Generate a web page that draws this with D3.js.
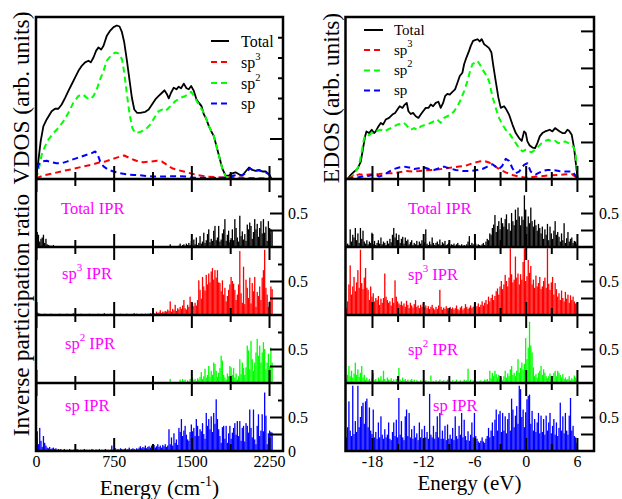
<!DOCTYPE html>
<html>
<head>
<meta charset="utf-8">
<script src="https://cdn.jsdelivr.net/npm/d3@7"></script>
<style>
  body { margin: 0; background: #fff; }
  svg { display: block; }
</style>
</head>
<body>
<svg id="fig" width="622" height="499"></svg>
<script>
// ---------- Vibrational density of states, [frequency (cm^-1), VDOS (arb.)] ----------
const vibTotal = [[0,0.03],[22,0.86],[45,1.86],[71,2.60],[103,2.94],[151,3.35],[184,3.47],[216,3.47],[248,3.68],[281,4.01],[313,4.35],[345,4.68],[377,5.01],[410,5.34],[442,5.59],[474,5.76],[507,5.84],[529,5.76],[555,6.00],[581,6.34],[604,6.50],[629,6.39],[652,6.58],[684,7.08],[717,7.33],[749,7.50],[781,7.58],[807,7.53],[830,7.25],[852,6.75],[878,5.84],[904,4.84],[926,4.01],[949,3.43],[975,3.27],[1007,3.27],[1056,3.32],[1088,3.43],[1120,3.68],[1152,3.93],[1185,4.10],[1217,4.26],[1240,4.38],[1265,4.18],[1282,3.98],[1304,4.26],[1330,4.51],[1356,4.43],[1378,4.56],[1401,4.48],[1427,4.71],[1453,4.48],[1475,4.43],[1498,4.59],[1524,4.35],[1550,3.93],[1572,3.77],[1598,3.60],[1621,3.19],[1646,2.94],[1669,2.61],[1692,2.36],[1718,2.11],[1743,1.61],[1769,1.11],[1798,0.53],[1831,0.17],[1863,0.17],[1895,0.28],[1927,0.33],[1960,0.23],[1992,0.17],[2024,0.37],[2057,0.57],[2089,0.45],[2121,0.40],[2153,0.45],[2186,0.37],[2218,0.37],[2250,0.23],[2273,0.03]];
const vibSp3 = [[0,0.03],[71,0.17],[168,0.28],[264,0.40],[361,0.50],[458,0.62],[555,0.73],[620,0.83],[668,0.86],[717,0.95],[765,1.03],[813,1.11],[852,1.16],[894,1.06],[943,0.95],[991,0.86],[1039,0.83],[1104,0.86],[1169,0.90],[1217,0.86],[1265,0.70],[1314,0.53],[1362,0.45],[1427,0.37],[1491,0.28],[1556,0.20],[1653,0.12],[1782,0.08],[1911,0.07],[2073,0.05],[2273,0.03]];
const vibSp2 = [[0,0.03],[22,0.37],[55,1.20],[87,1.61],[119,1.94],[168,2.27],[216,2.52],[264,2.85],[313,3.27],[361,3.77],[410,4.10],[452,4.18],[490,4.01],[523,3.93],[555,4.10],[587,4.43],[620,4.93],[652,5.34],[684,5.84],[723,6.09],[765,6.25],[797,6.20],[830,5.92],[852,5.26],[878,4.18],[904,3.18],[930,2.52],[959,2.27],[1007,2.32],[1056,2.44],[1104,2.69],[1152,3.10],[1185,3.35],[1217,3.43],[1249,3.35],[1282,3.52],[1314,3.68],[1346,3.85],[1395,4.01],[1443,4.10],[1475,4.21],[1498,4.31],[1524,4.10],[1556,3.82],[1588,3.55],[1621,3.27],[1646,2.94],[1669,2.61],[1692,2.36],[1718,2.11],[1743,1.61],[1769,1.11],[1798,0.53],[1831,0.12],[1879,0.03],[1927,0.00]];
const vibSp = [[0,0.03],[22,0.70],[55,0.86],[103,0.90],[151,0.83],[200,0.78],[248,0.78],[297,0.86],[345,0.95],[394,1.03],[442,1.11],[490,1.20],[539,1.28],[571,1.36],[594,1.23],[620,0.86],[652,0.62],[700,0.45],[749,0.37],[813,0.28],[878,0.23],[943,0.20],[1007,0.18],[1072,0.15],[1136,0.12],[1265,0.13],[1395,0.13],[1459,0.12],[1491,0.07],[1750,0.05],[1831,0.07],[1879,0.12],[1911,0.17],[1944,0.20],[1976,0.17],[2008,0.23],[2040,0.37],[2066,0.53],[2089,0.45],[2121,0.40],[2153,0.43],[2186,0.37],[2218,0.33],[2250,0.23],[2273,0.03]];

// ---------- Electronic density of states, [energy (eV), EDOS (arb.)] ----------
const elTotal = [[-20.87,0.00],[-20.48,0.22],[-20.09,0.40],[-19.70,0.54],[-19.31,0.94],[-19.04,1.67],[-18.81,2.30],[-18.65,2.57],[-18.34,2.48],[-18.03,2.66],[-17.75,2.48],[-17.56,2.57],[-17.25,2.84],[-16.97,3.03],[-16.70,2.94],[-16.39,3.21],[-16.00,3.30],[-15.61,3.48],[-15.29,3.57],[-15.02,3.75],[-14.75,3.93],[-14.43,3.84],[-14.16,4.02],[-13.93,4.11],[-13.73,3.66],[-13.46,3.51],[-13.19,3.57],[-12.87,3.39],[-12.56,3.30],[-12.29,3.48],[-12.01,3.66],[-11.70,3.84],[-11.39,3.84],[-11.12,4.02],[-10.84,3.93],[-10.53,4.11],[-10.22,4.17],[-9.95,3.84],[-9.67,4.11],[-9.44,4.47],[-9.17,4.60],[-8.89,4.56],[-8.58,4.71],[-8.27,4.84],[-7.99,5.20],[-7.72,5.56],[-7.41,5.74],[-7.21,6.20],[-6.94,6.56],[-6.63,6.92],[-6.43,7.19],[-6.16,7.46],[-5.93,7.50],[-5.65,7.55],[-5.38,7.43],[-5.15,7.55],[-4.87,7.28],[-4.60,7.19],[-4.29,7.07],[-4.01,6.83],[-3.82,6.20],[-3.51,5.29],[-3.19,4.38],[-2.92,3.84],[-2.53,3.93],[-2.26,3.75],[-1.95,3.48],[-1.55,2.94],[-1.16,2.48],[-0.77,2.21],[-0.46,2.06],[-0.19,2.57],[0.01,2.48],[0.20,2.03],[0.47,1.81],[0.79,1.70],[1.10,1.67],[1.37,1.94],[1.65,2.30],[1.96,2.48],[2.27,2.57],[2.54,2.61],[2.82,2.66],[3.13,2.57],[3.44,2.75],[3.71,2.66],[3.99,2.57],[4.30,2.48],[4.61,2.48],[4.89,2.66],[5.08,2.61],[5.39,2.39],[5.67,1.67],[5.94,0.58],[6.10,0.00]];
const elSp3 = [[-20.87,0.00],[-20.29,0.13],[-19.51,0.25],[-18.73,0.22],[-17.95,0.25],[-17.17,0.27],[-16.39,0.31],[-15.61,0.31],[-14.83,0.36],[-14.04,0.43],[-13.26,0.40],[-12.48,0.43],[-11.70,0.47],[-10.92,0.49],[-10.14,0.52],[-9.36,0.58],[-8.58,0.62],[-7.80,0.67],[-7.02,0.72],[-6.24,0.85],[-5.46,0.94],[-4.87,0.98],[-4.29,0.89],[-3.70,0.72],[-3.12,0.54],[-2.34,0.36],[-1.55,0.22],[-0.77,0.13],[0.01,0.07],[0.79,0.11],[1.57,0.14],[2.35,0.18],[3.13,0.20],[3.91,0.22],[4.69,0.25],[5.47,0.25],[6.06,0.04]];
const elSp2 = [[-20.68,0.04],[-20.09,0.22],[-19.51,0.76],[-19.20,1.48],[-18.92,2.21],[-18.65,2.39],[-18.34,2.36],[-18.03,2.48],[-17.75,2.54],[-17.36,2.61],[-16.97,2.66],[-16.58,2.57],[-16.19,2.66],[-15.80,2.75],[-15.41,2.84],[-15.02,2.94],[-14.63,2.97],[-14.24,3.03],[-13.85,2.84],[-13.46,2.66],[-13.07,2.75],[-12.68,2.66],[-12.29,2.84],[-11.90,2.90],[-11.51,2.94],[-11.12,3.03],[-10.73,3.12],[-10.34,3.21],[-9.95,3.03],[-9.56,3.30],[-9.17,3.39],[-8.77,3.48],[-8.38,3.66],[-7.99,3.93],[-7.60,4.29],[-7.21,4.75],[-6.82,5.29],[-6.51,5.83],[-6.24,6.20],[-5.93,6.29],[-5.65,6.38],[-5.38,6.20],[-5.07,5.92],[-4.68,5.65],[-4.29,5.29],[-3.90,4.47],[-3.51,3.84],[-3.12,3.30],[-2.73,2.94],[-2.34,2.66],[-1.95,2.48],[-1.55,2.21],[-1.16,1.94],[-0.77,1.67],[-0.38,1.49],[0.01,1.58],[0.32,1.49],[0.71,1.45],[1.10,1.58],[1.49,1.76],[1.88,1.94],[2.27,2.06],[2.66,2.12],[3.05,2.03],[3.44,2.06],[3.83,1.94],[4.22,1.94],[4.61,2.03],[5.00,1.94],[5.39,1.84],[5.67,1.67],[5.86,1.30],[6.06,0.04]];
const elSp = [[-20.87,0.00],[-19.90,0.07],[-19.12,0.13],[-18.34,0.18],[-17.56,0.25],[-17.17,0.13],[-16.58,0.22],[-16.00,0.40],[-15.41,0.54],[-14.83,0.62],[-14.24,0.67],[-13.65,0.62],[-13.07,0.54],[-12.48,0.58],[-11.90,0.62],[-11.31,0.54],[-10.73,0.49],[-10.14,0.58],[-9.56,0.67],[-8.97,0.58],[-8.19,0.49],[-7.41,0.43],[-6.63,0.43],[-5.85,0.47],[-5.07,0.54],[-4.48,0.67],[-3.90,0.80],[-3.51,0.67],[-3.12,0.54],[-2.73,0.72],[-2.34,1.09],[-1.95,0.98],[-1.55,0.58],[-1.16,0.31],[-0.77,0.40],[-0.19,0.76],[0.20,0.85],[0.59,0.40],[1.18,0.25],[1.96,0.43],[2.54,0.49],[3.13,0.49],[3.91,0.43],[4.69,0.40],[5.47,0.40],[6.06,0.04]];

// ---------- Inverse participation ratios (IPR x 100) ----------
// vibrational modes: one value every 12 cm^-1 starting at 0 cm^-1
const vibStart = 0, vibStep = 12;
const iprVibTotal = [24,22,18,8,12,14,18,6,12,4,3,2,2,1,3,
  1,0,0,1,0,0,0,1,0,0, 0,0,1,0,0,0,0,0,1,0, 0,0,0,0,1,0,0,0,0,0, 0,1,0,0,0,0,0,0,0,1, 0,0,0,0,0,0,1,0,0,0,
  0,0,0,1,0,0,0,0,0,0, 0,0,0,0,1,0,0,0,0,0, 0,1,0,0,0,0,0,1,0,0, 0,0,0,0,1,0,0,0,1,0, 0,1,0,
  4,0,1,0,0,1,0, 2,5,1,3,4,2,5,3,6,
  3,9,2,11,4,14,3,6,16,5, 8,21,6,10,19,26,7,12,9,24, 31,10,14,31,8,11,20,26,41,9, 18,24,7,13,26,10,41,28,14,8,
  46,16,23,11,19,9,33,26,36,31, 12,22,41,26,34,15,28,38,20,41, 21,30,9,38,28,26,24];
const iprVibSp3 = [6,4,3,2,1,
  1,1,2,1,1,1,1,2,1,1, 1,1,1,1,2,1,1,1,1,1, 2,1,1,1,1,3,1,1,1,1, 1,2,1,1,1,1,1,1,2,1, 1,1,1,1,1,2,1,1,1,1,
  3,1,1,1,1,2,1,1,1,2, 1,1,1,2,1,1,1,1,2,1, 1,1,1,1,3,1,2,1,1,1, 2,1,1,2,1,2,1,
  3,2,4,3,2,5,3,4,7,3, 5,4,6,5,8,6,20,5,9,7, 15,6,10,8,12,9,14,22,10,8, 15,12,27,
  11,17,13,18,14,22,51,37,24,56, 42,36,59,45,61,48,64,69,52,66, 55,66,48,47,35,51,30,40,20,28,
  37,45,56,50,46,37,22,30,45,94, 32,18,71,16,52,40,25,55,17,47, 35,56,12,34,28,42,22,55,66,96, 40,30,12,20,42,38];
const iprVibSp2 = [0,0,0,0,0,0,0,0,0,0, 0,0,0,0,0,0,0,0,0,0, 0,0,0,0,0,0,0,0,0,0, 0,0,0,0,0,0,0,0,0,0,
  0,0,0,0,0,0,0,0,0,0, 0,0,0,0,0,0,0,0,0,0, 0,0,0,0,0,0,0,0,0,0, 0,0,0,0,0,0,0,0,0,0,
  0,0,0,0,0,0,0,0,0,0, 0,0,0,0,0,0,0,0,0,0, 0,0,0,0,0,0,0,0,
  6,0,1,0,0,1,0,0,5,2, 6,3,5,1,4,2,6,3,8,4, 6,3,7,5,9,
  16,6,10,21,8,12,25,9,18,12, 30,28,18,9,15,22,40,33,12,8, 5,14,10,25,23,12,22,8,14,5,
  10,35,13,30,22,12,23,55,48,20, 62,35,18,30,45,65,40,55,30,45, 60,50,20,30,43,25,52,30];
const iprVibSp = [20,29,10,34,15,6,22,12,8,5, 4,6,3,4,5,3,4,2,3,2, 3,
  1,2,3,1,2,1,3,2,1,2, 2,1,3,2,1,2,1,2,3,1, 2,1,2,1,3,2,1,2,2,1, 3,1,2,1,2,3,1,2,1,2,
  8,
  2,3,4,2,3,2,4,3,2,3, 4,2,3,5,2,3,4,3,2,4, 3,5,
  7,4,6,5,8,4,6,7,5,8, 6,9,5,7,10,6,8,5,9,7, 10,6,8,
  32,10,20,8,26,12,17,9,34,28, 47,22,30,37,24,17,15,28,39,29, 34,22,47,37,22,32,29,41,25,18,
  56,37,47,32,51,28,56,40,76,47, 32,22,12,35,37,18,37,12,26,37, 18,27,34,41,24,44,22,44,15,34,
  37,14,41,37,27,61,34,20,61,17, 10,37,54,22,30,54,29,86,52,10, 26,30,28,27];

// electronic states: one value every 0.15 eV starting at -21 eV
const elStart = -21, elStep = 0.15;
const iprElTotal = [2,5,3,26,8,18,14,28,10,20, 6,28,12,24,8,5,10,4,8,6, 21,4,9,3,6,10,5,14,4,8,
  6,3,9,5,12,7,18,28,14,20, 9,18,6,12,15,5,14,9,11,4, 7,10,3,6,4,9,3,8,5,10,
  4,7,26,5,3,8,4,14,6,3, 6,8,4,11,3,7,5,9,3,4, 6,2,4,3,5,2,4,6,3,2,
  4,2,3,2,4,8,16,3,6,4, 3,5,2,4,3,2,4,6,3,8, 12,10,20,18,28,33,47,22,31,38,
  26,43,35,30,41,48,26,35,24,50, 38,32,55,40,58,45,32,45,40,76, 55,30,45,35,58,38,30,40,32,24,
  34,28,20,30,12,26,18,34,10,30, 20,12,24,38,18,22,15,8,20,10, 35,6,13,22,8,12,14,6,9,8, 5];
const iprElSp3 = [10,20,45,73,30,42,56,35,48,66, 40,96,47,38,55,69,40,37,22,42, 27,32,20,25,22,28,15,24,18,25,
  61,27,22,18,20,14,25,18,51,27, 20,17,15,20,14,17,12,21,15,10, 18,14,11,16,22,12,14,10,15,12,
  17,11,14,10,13,9,12,15,10,8, 12,9,14,37,12,8,11,9,13,10, 7,12,9,11,8,10,14,9,7,11,
  13,8,10,16,12,9,11,14,10,12, 15,11,13,17,12,15,20,14,18,22, 16,27,20,25,30,22,28,35,39,30,
  42,50,38,45,59,50,42,55,98,60, 48,52,86,55,61,45,60,52,78,98, 50,57,81,62,72,45,52,40,58,42,
  47,56,38,42,50,55,40,98,46,37, 48,56,30,47,38,27,32,22,36,25, 20,34,24,30,18,29,22,27,20,17, 18];
const iprElSp2 = [5,12,25,10,18,8,14,30,12,20, 9,15,25,8,12,5,8,4,6,3, 8,15,4,6,3,8,5,10,4,18,
  6,3,8,5,4,7,3,5,2,6, 4,22,5,3,8,4,6,3,5,2, 4,6,3,5,2,4,3,2,4,3,
  2,3,4,2,3,2,11,2,3,2, 4,2,3,5,2,3,4,2,3,5, 2,3,2,4,2,3,5,2,3,4,
  2,3,5,3,4,21,3,5,2,4, 3,2,3,2,3,4,2,3,5,4, 6,3,18,7,15,10,18,13,8,12,
  5,8,4,10,18,8,14,10,20,25, 12,15,10,18,35,15,22,30,20,28, 66,35,52,90,55,45,23,10,13,8,
  15,18,25,12,20,15,10,7,10,14, 6,10,15,18,10,18,15,12,8,13, 6,8,5,6,10,4,7,5,11,8, 4];
const iprElSp = [20,35,73,30,22,96,25,44,28,96, 35,50,66,71,40,73,77,35,64,30, 25,61,20,28,18,42,20,51,24,18,
  32,20,24,42,18,16,28,42,22,46, 20,78,24,44,20,16,51,61,22,56, 20,32,18,37,20,26,16,42,20,32,
  18,37,20,28,18,84,24,20,37,18, 28,51,20,56,18,30,18,37,16,39, 18,24,18,34,16,51,22,18,37,24,
  56,20,46,22,16,29,15,24,42,20, 56,22,18,14,12,15,20,14,12,18, 22,34,20,30,42,22,46,61,30,54,
  59,28,56,30,51,26,47,56,30,77, 61,35,52,66,40,96,91,50,61,35, 57,76,81,83,40,59,30,47,28,42,
  56,26,52,28,47,24,52,30,42,56, 26,37,47,24,42,22,34,71,30,51, 26,56,30,24,52,78,30,37,22,20, 12];

// ---------- axis ticks ----------
const vibMajor = [0, 750, 1500, 2250], vibMinor = [375, 1125, 1875];
const elMajor = [-18, -12, -6, 0, 6], elMinor = [-15, -9, -3, 3];

// ---------- layout ----------
const FONT = "'Liberation Serif'";
const svg = d3.select("#fig");
const TOP = 17;
const ROWS = [179, 247, 315, 383, 451];
const black = "#000", red = "#ff0000", green = "#00ff00", blue = "#0000ff", magenta = "#ff00ff";

const xVib = d3.scaleLinear().domain([0, 2385]).range([36, 283]);
const xEl = d3.scaleLinear().domain([-21.1, 8]).range([345.5, 594]);
const yVib = d3.scaleLinear().domain([0, 8]).range([ROWS[0], TOP]);
const yEl = d3.scaleLinear().domain([0, 8.75]).range([ROWS[0], TOP]);

const columns = [
  { key: "vib", x: xVib, yDos: yVib,
    curves: [[vibTotal, black, null], [vibSp2, green, "6,4"], [vibSp3, red, "6,4"], [vibSp, blue, "6,4"]],
    ipr: [iprVibTotal, iprVibSp3, iprVibSp2, iprVibSp], start: vibStart, step: vibStep,
    major: vibMajor, minor: vibMinor, dosTicks: [1,2,3,4,5,6,7], dosLong: [2] },
  { key: "el", x: xEl, yDos: yEl,
    curves: [[elTotal, black, null], [elSp2, green, "6,4"], [elSp3, red, "6,4"], [elSp, blue, "6,4"]],
    ipr: [iprElTotal, iprElSp3, iprElSp2, iprElSp], start: elStart, step: elStep,
    major: elMajor, minor: elMinor, dosTicks: [1,2,3,4,5,6,7,8], dosLong: [2,4,6,8] }
];
const iprColors = [black, red, green, blue];

function tickAxis(axisFn, scale, values, size, tx, ty) {
  const g = svg.append("g").attr("transform", `translate(${tx},${ty})`)
    .call(axisFn(scale).tickValues(values).tickSize(size).tickFormat(""));
  g.select(".domain").remove();
  g.selectAll("line").attr("stroke", black).attr("stroke-width", 2);
  return g;
}
function styleLabels(g, size) {
  g.select(".domain").remove();
  g.attr("font-family", null).attr("font-size", null);
  g.selectAll("text").style("font-family", FONT).style("font-size", size + "px").attr("fill", black);
}

columns.forEach((c, ci) => {
  const [x0, x1] = c.x.range();

  // IPR bars
  c.ipr.forEach((vals, k) => {
    const bottom = ROWS[k + 1], top = ROWS[k];
    const y = d3.scaleLinear().domain([0, 1]).range([bottom, top]);
    const clipId = `clip-${c.key}-${k}`;
    svg.append("clipPath").attr("id", clipId)
      .append("rect").attr("x", x0).attr("y", top).attr("width", x1 - x0).attr("height", bottom - top);
    svg.append("g").attr("clip-path", `url(#${clipId})`)
      .selectAll("rect")
      .data(vals.map((v, i) => ({ e: c.start + i * c.step, v: v / 100 })))
      .join("rect")
      .attr("x", d => c.x(d.e) - 0.65)
      .attr("width", 1.3)
      .attr("y", d => y(d.v))
      .attr("height", d => bottom - y(d.v))
      .attr("fill", iprColors[k]);

    // right-hand IPR ticks
    tickAxis(d3.axisLeft, y, [0.25, 0.5], 13, x1, 0);
    tickAxis(d3.axisLeft, y, [0.75], 5, x1, 0);
    const lab = svg.append("g").attr("transform", `translate(${x1},0)`)
      .call(d3.axisRight(y).tickValues(ci === 0 && k === 3 ? [0, 0.5] : [0.5])
        .tickSize(0).tickPadding(5).tickFormat(d => String(d)));
    styleLabels(lab, 16);

    // top and bottom inward x ticks
    tickAxis(d3.axisBottom, c.x, c.major, 13, 0, top);
    tickAxis(d3.axisBottom, c.x, c.minor, 7, 0, top);
    tickAxis(d3.axisTop, c.x, c.major, 13, 0, bottom);
    tickAxis(d3.axisTop, c.x, c.minor, 7, 0, bottom);
  });

  // density of states curves
  const line = d3.line().x(d => c.x(d[0])).y(d => c.yDos(d[1]));
  c.curves.forEach(([data, col, dash]) => {
    svg.append("path").datum(data).attr("d", line)
      .attr("fill", "none").attr("stroke", col)
      .attr("stroke-width", dash ? 2 : 1.8)
      .attr("stroke-dasharray", dash)
      .attr("stroke-linejoin", "round");
  });
  tickAxis(d3.axisTop, c.x, c.major, 13, 0, ROWS[0]);
  tickAxis(d3.axisTop, c.x, c.minor, 7, 0, ROWS[0]);
  tickAxis(d3.axisLeft, c.yDos, c.dosLong, 13, x1, 0);
  tickAxis(d3.axisLeft, c.yDos, c.dosTicks.filter(t => !c.dosLong.includes(t)), 5, x1, 0);

  // frames
  svg.append("rect").attr("x", x0).attr("y", TOP).attr("width", x1 - x0).attr("height", ROWS[4] - TOP)
    .attr("fill", "none").attr("stroke", black).attr("stroke-width", 2.5);
  ROWS.slice(0, 4).forEach(r => {
    svg.append("line").attr("x1", x0).attr("x2", x1).attr("y1", r).attr("y2", r)
      .attr("stroke", black).attr("stroke-width", 2.5);
  });

  // bottom tick labels
  const bl = svg.append("g").attr("transform", `translate(0,${ROWS[4]})`)
    .call(d3.axisBottom(c.x).tickValues(c.major).tickSize(0).tickPadding(5).tickFormat(d => String(d)));
  styleLabels(bl, 16);
});

// ---------- text helpers ----------
function txt(x, y, size, fill) {
  return svg.append("text").attr("x", x).attr("y", y).attr("fill", fill)
    .style("font-family", FONT).style("font-size", size + "px");
}
function supText(x, y, base, sup, rest, size, supSize, fill) {
  const t = txt(x, y, size, fill);
  t.append("tspan").text(base);
  if (sup) t.append("tspan").attr("dy", -8).style("font-size", supSize + "px").text(sup);
  if (rest) t.append("tspan").attr("dy", sup ? 8 : 0).text(rest);
  return t;
}

// ---------- legends ----------
const legendItems = [["Total", null, black, null], ["sp", "3", red, "6,4"], ["sp", "2", green, "6,4"], ["sp", null, blue, "6,4"]];
const legends = [
  { lx: [211, 229], tx: 241, rows: [41, 62, 83, 103.5], dy: 5.5, size: 16 },
  { lx: [364, 383], tx: 394, rows: [30, 50, 70.5, 90.5], dy: 4.5, size: 15 }
];
legends.forEach(L => {
  legendItems.forEach(([name, sup, col, dash], i) => {
    svg.append("line").attr("x1", L.lx[0]).attr("x2", L.lx[1]).attr("y1", L.rows[i]).attr("y2", L.rows[i])
      .attr("stroke", col).attr("stroke-width", 2).attr("stroke-dasharray", dash);
    supText(L.tx, L.rows[i] + L.dy, name, sup, null, L.size, 10.5, black);
  });
});

// ---------- IPR panel labels ----------
const iprLabels = [
  [61, 214, "Total IPR", null, null], [62, 279, "sp", "3", " IPR"], [65, 349, "sp", "2", " IPR"], [65, 411, "sp IPR", null, null],
  [408, 214, "Total IPR", null, null], [408, 280, "sp", "3", " IPR"], [408, 355, "sp", "2", " IPR"], [433, 411, "sp IPR", null, null]
];
iprLabels.forEach(([x, y, b, s, r]) => supText(x, y, b, s, r, 16.5, 11, magenta));

// ---------- axis titles ----------
const yTitles = [[28.5, 98, "VDOS (arb. units)"], [339, 98, "EDOS (arb. units)"], [29, 315, "Inverse participation ratio"]];
yTitles.forEach(([x, y, s]) => {
  svg.append("text").attr("transform", `translate(${x},${y}) rotate(-90)`)
    .attr("text-anchor", "middle").style("font-family", FONT).style("font-size", "23.5px")
    .attr("fill", black).text(s);
});
const xt1 = txt(159.5, 495, 21.5, black).attr("text-anchor", "middle");
xt1.append("tspan").text("Energy (cm");
xt1.append("tspan").attr("dy", -9).style("font-size", "14px").text("-1");
xt1.append("tspan").attr("dy", 9).text(")");
txt(469.5, 489.5, 21, black).attr("text-anchor", "middle").text("Energy (eV)");
</script>
</body>
</html>
